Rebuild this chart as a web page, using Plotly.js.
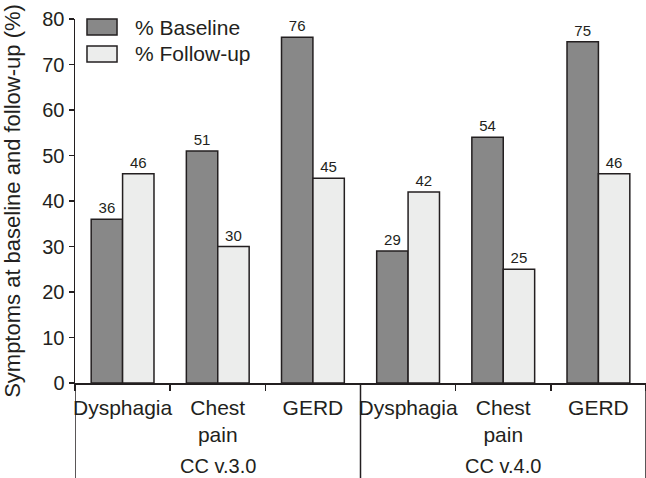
<!DOCTYPE html>
<html>
<head>
<meta charset="utf-8">
<script src="https://cdn.plot.ly/plotly-3.0.1.min.js"></script>
<style>html,body{margin:0;padding:0;background:#fff;}#chart{width:646px;height:478px;}</style>
</head>
<body>
<div id="chart"></div>
<script>
const groups = ["CC v.3.0","CC v.3.0","CC v.3.0","CC v.4.0","CC v.4.0","CC v.4.0"];
const symptoms = ["Dysphagia","Chest<br>pain","GERD","Dysphagia","Chest<br>pain","GERD"];
const baseline = [36,51,76,29,54,75];
const followup = [46,30,45,42,25,46];
const seriesNames = ["% Baseline","% Follow-up"];
const seriesColors = ["#888888","#ecedec"];
const yTicks = [0,10,20,30,40,50,60,70,80];

const ink = "#231f20";
const font = "Liberation Sans, Arial, sans-serif";

// unique category keys built from the group + symptom arrays
const keys = groups.map((g,i) => g + "|" + symptoms[i]);
const groupNames = [...new Set(groups)];

function barTrace(vals, i){
  return {
    type:"bar", x:keys, y:vals, name:seriesNames[i],
    marker:{color:seriesColors[i], line:{color:ink, width:1.5}},
    text:vals.map(String), textposition:"outside", cliponaxis:false,
    textfont:{size:15, color:ink, family:font}, showlegend:false
  };
}

const data = [barTrace(baseline,0), barTrace(followup,1)];

// group label annotations and divider lines (at group boundaries, category index units)
const groupAnnotations = groupNames.map(g => {
  const idx = groups.map((v,i)=>v===g?i:-1).filter(i=>i>=0);
  const mid = (idx[0] + idx[idx.length-1]) / 2;
  return {xref:"x", yref:"paper", x:mid, y:-0.228, xanchor:"center", yanchor:"middle",
          showarrow:false, text:g, font:{size:20, color:ink, family:font}};
});
const boundaries = [-0.5];
groupNames.forEach(g => { boundaries.push(groups.lastIndexOf(g) + 0.5); });
const dividerShapes = boundaries.map(b => ({
  type:"line", xref:"x", yref:"paper", x0:b, x1:b, y0:0, y1:-0.27,
  line:{color:ink, width:1.5}
}));

const layout = {
  width:646, height:478,
  margin:{l:75, r:0, t:19, b:95},
  paper_bgcolor:"#fff", plot_bgcolor:"#fff",
  font:{family:font, color:ink},
  barmode:"group", bargap:0.34, bargroupgap:0,
  xaxis:{
    type:"category", tickangle:0, tickvals:keys, ticktext:symptoms,
    range:[-0.5, keys.length-0.5],
    showline:true, linecolor:ink, linewidth:1.5,
    ticks:"outside", tickson:"boundaries", ticklen:6, tickwidth:1.5, tickcolor:ink,
    ticklabelstandoff:5,
    tickfont:{size:21, color:ink, family:font},
    showgrid:false, zeroline:false
  },
  yaxis:{
    range:[0,80], tickvals:yTicks, ticktext:yTicks.map(String),
    showline:true, linecolor:ink, linewidth:1.5,
    ticks:"outside", ticklen:5, tickwidth:1.5, tickcolor:ink,
    tickfont:{size:20, color:ink, family:font},
    showgrid:false, zeroline:false,
    title:{text:"Symptoms at baseline and follow-up (%)", font:{size:22, color:ink, family:font}, standoff:17}
  },
  shapes:[
    {type:"rect", xref:"paper", yref:"paper", x0:0.021, x1:0.0736, y0:0.956, y1:1.0, fillcolor:seriesColors[0], line:{color:ink,width:1.5}},
    {type:"rect", xref:"paper", yref:"paper", x0:0.021, x1:0.0736, y0:0.882, y1:0.926, fillcolor:seriesColors[1], line:{color:ink,width:1.5}}
  ].concat(dividerShapes),
  annotations:[
    {xref:"paper", yref:"paper", x:0.1016, y:0.978, xanchor:"left", yanchor:"middle", showarrow:false, text:seriesNames[0], font:{size:21, color:ink, family:font}},
    {xref:"paper", yref:"paper", x:0.1016, y:0.904, xanchor:"left", yanchor:"middle", showarrow:false, text:seriesNames[1], font:{size:21, color:ink, family:font}}
  ].concat(groupAnnotations)
};

Plotly.newPlot("chart", data, layout, {displayModeBar:false, staticPlot:true});
</script>
</body>
</html>
